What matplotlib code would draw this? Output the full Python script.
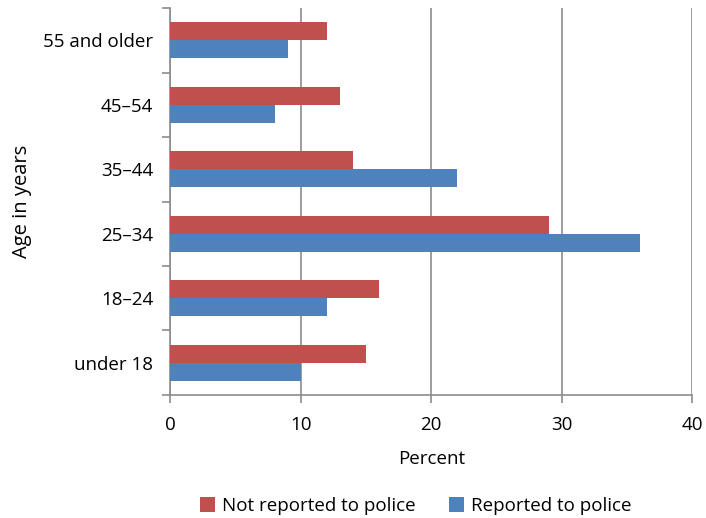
import matplotlib.pyplot as plt
import numpy as np

plt.rcParams['font.family'] = ['Open Sans', 'DejaVu Sans']

ages = ["under 18", "18\u201324", "25\u201334", "35\u201344", "45\u201354", "55 and older"]
not_reported = [15, 16, 29, 14, 13, 12]
reported = [10, 12, 36, 22, 8, 9]

red = '#C0504D'
blue = '#4F81BD'
grid_c = '#8C8C8C'

fig = plt.figure(figsize=(7.06, 5.18), dpi=100)
ax = fig.add_axes([0.241, 0.2375, 0.7395, 0.747])

y = np.arange(len(ages))
h = 0.28
ax.barh(y + h / 2, not_reported, height=h, color=red, label="Not reported to police", zorder=3)
ax.barh(y - h / 2, reported, height=h, color=blue, label="Reported to police", zorder=3)

ax.set_xlim(0, 40)
ax.set_ylim(-0.5, len(ages) - 0.5)
ax.set_xticks([0, 10, 20, 30, 40])
ax.set_yticks(y)
ax.set_yticklabels(ages)
ax.set_yticks(np.arange(-0.5, len(ages)), minor=True)
ax.tick_params(axis='y', which='major', length=0, pad=12, labelsize=13.5)
ax.tick_params(axis='y', which='minor', length=6, color=grid_c, width=1.2)
ax.tick_params(axis='x', length=6, color=grid_c, width=1.2, labelsize=13.5, pad=9)
ax.xaxis.grid(True, color=grid_c, linewidth=1.2, zorder=0)

for s in ['top', 'right']:
    ax.spines[s].set_visible(False)
for s in ['left', 'bottom']:
    ax.spines[s].set_color(grid_c)
    ax.spines[s].set_linewidth(1.2)

ax.set_xlabel("Percent", fontsize=13.5, labelpad=12)
ax.set_ylabel("Age in years", fontsize=14.5, labelpad=8)

ax.legend(loc='upper center', bbox_to_anchor=(0.47, -0.22), ncol=2, frameon=False,
          fontsize=13.5, handlelength=0.8, handleheight=0.8, handletextpad=0.35,
          columnspacing=1.8)

fig.savefig("out.png", dpi=100)
